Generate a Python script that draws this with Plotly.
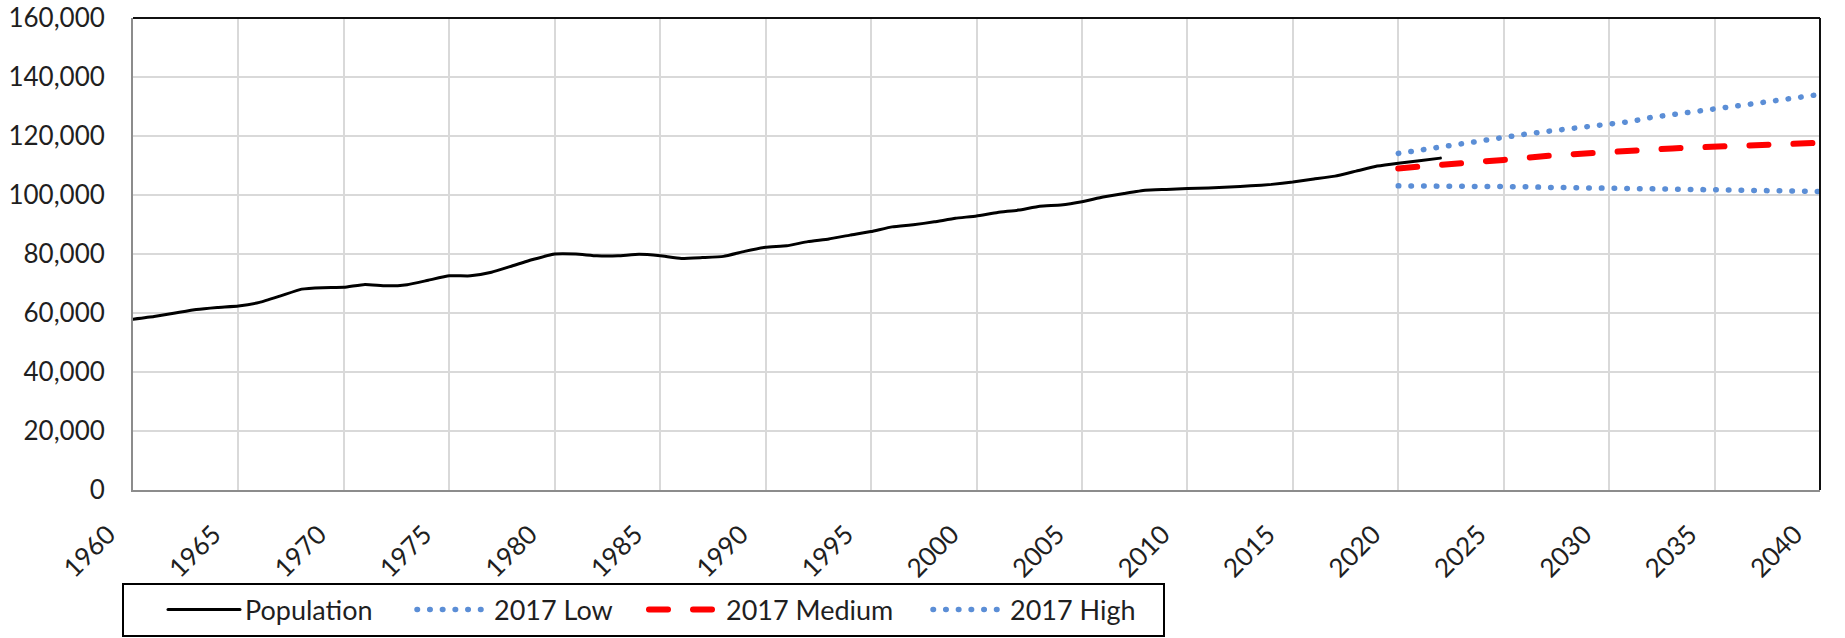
import plotly.graph_objects as go

# ---- data ----
pop_years = list(range(1960, 2023))
pop_values = [
    57900, 58800, 60000, 61200, 61900, 62400, 63600, 65800, 68100, 68600,
    68700, 69700, 69200, 69600, 71100, 72600, 72600, 73800, 76000, 78200,
    80000, 80000, 79400, 79400, 79900, 79400, 78500, 78800, 79200, 80900,
    82300, 82800, 84200, 85100, 86400, 87600, 89200, 89900, 90900, 92100,
    92900, 94100, 94900, 96200, 96600, 97700, 99300, 100500, 101600, 101900,
    102200, 102400, 102700, 103100, 103600, 104400, 105400, 106400, 108100, 109800,
    110800, 111600, 112500,
]

proj_years = list(range(2020, 2041))
low_values = [
    103100, 103100, 103100, 103100, 103000, 103000, 102800, 102600, 102600, 102500,
    102300, 102200, 102100, 102000, 101900, 101700, 101700, 101600, 101500, 101400,
    101200,
]
medium_values = [
    109000, 109700, 110300, 110900, 111400, 111900, 112700, 113200, 113700, 114200,
    114600, 115000, 115400, 115800, 116100, 116400, 116700, 117000, 117200, 117500,
    117700,
]
high_values = [
    114100, 115200, 116100, 117500, 118500, 119800, 120600, 121500, 122400, 123200,
    124100, 124900, 126300, 127200, 128000, 128900, 129900, 131100, 132100, 133300,
    134100,
]

x_ticks = list(range(1960, 2041, 5))
y_ticks = list(range(0, 160001, 20000))

FONT = "Lato, 'Open Sans', sans-serif"
TEXT = "#1f1f1f"
BLUE = "#5B8ED6"
RED = "#FF0000"

# figure geometry (pixels)
W, H = 1845, 638
ML, MR, MT, MB = 133, 25, 18, 148
PW, PH = W - ML - MR, H - MT - MB


def px_x(x):
    return (x - ML) / PW


def px_y(y):
    return (H - MB - y) / PH


fig = go.Figure()
fig.add_trace(go.Scatter(x=pop_years, y=pop_values, name="Population", mode="lines",
                         line=dict(color="#000000", width=3, shape="spline", smoothing=0.4),
                         legend="legend"))
fig.add_trace(go.Scatter(x=proj_years, y=low_values, name="2017 Low", mode="lines",
                         line=dict(color=BLUE, width=5.5, dash="0.5px,12.2px"),
                         legend="legend2"))
fig.add_trace(go.Scatter(x=proj_years, y=medium_values, name="2017 Medium", mode="lines",
                         line=dict(color=RED, width=6, dash="19px,25px"),
                         legend="legend3"))
fig.add_trace(go.Scatter(x=proj_years, y=high_values, name="2017 High", mode="lines",
                         line=dict(color=BLUE, width=5.5, dash="0.5px,12.2px"),
                         legend="legend4"))

leg_y = px_y(610)


def leg(sample_start):
    return dict(
        orientation="h", x=px_x(sample_start - 5), xanchor="left",
        y=leg_y, yanchor="middle", borderwidth=0, bgcolor="rgba(0,0,0,0)",
        font=dict(family=FONT, size=27, color=TEXT), itemwidth=72,
    )


fig.update_layout(
    width=W, height=H,
    margin=dict(l=ML, r=MR, t=MT, b=MB, autoexpand=False),
    paper_bgcolor="white", plot_bgcolor="white",
    font=dict(family=FONT, size=26, color=TEXT),
    showlegend=True,
    legend=leg(168), legend2=leg(417), legend3=leg(649), legend4=leg(933),
    xaxis=dict(
        range=[1960, 2040], tickmode="array", tickvals=x_ticks,
        ticktext=[str(v) for v in x_ticks], tickangle=-45,
        showgrid=True, gridcolor="#D9D9D9", gridwidth=1.8,
        showline=True, linecolor="#8C8C8C", linewidth=2,
        ticks="", zeroline=False, automargin=False,
        ticklabelstandoff=17, ticklabelshift=-25,
        tickfont=dict(family=FONT, size=26, color=TEXT),
    ),
    yaxis=dict(
        range=[0, 160000], tickmode="array", tickvals=y_ticks,
        ticktext=[f"{v:,}" for v in y_ticks],
        showgrid=True, gridcolor="#D9D9D9", gridwidth=1.8,
        showline=True, linecolor="#8C8C8C", linewidth=2,
        ticks="", zeroline=False, automargin=False, ticklabelstandoff=21,
        tickfont=dict(family=FONT, size=26, color=TEXT),
    ),
    shapes=[
        dict(type="line", xref="paper", yref="paper", x0=0, x1=1, y0=1, y1=1,
             line=dict(color="#111111", width=2)),
        dict(type="line", xref="paper", yref="paper", x0=1, x1=1, y0=0, y1=1,
             line=dict(color="#111111", width=2)),
        # legend frame
        dict(type="rect", xref="paper", yref="paper",
             x0=px_x(123), x1=px_x(1164), y0=px_y(636), y1=px_y(584),
             line=dict(color="#000000", width=2), fillcolor="rgba(0,0,0,0)"),
    ],
)

post = """
document.documentElement.style.margin = '0';
document.body.style.margin = '0';
document.body.style.overflow = 'hidden';
var gd = document.getElementById('{plot_id}');
function roundCaps(){
  gd.querySelectorAll('path.js-line, g.legendlines path').forEach(function(p){
    p.style.strokeLinecap = 'round';
  });
}
roundCaps();
gd.on('plotly_afterplot', roundCaps);
setTimeout(roundCaps, 200);
"""

fig.write_html("out.html", post_script=post, config={"displayModeBar": False})
